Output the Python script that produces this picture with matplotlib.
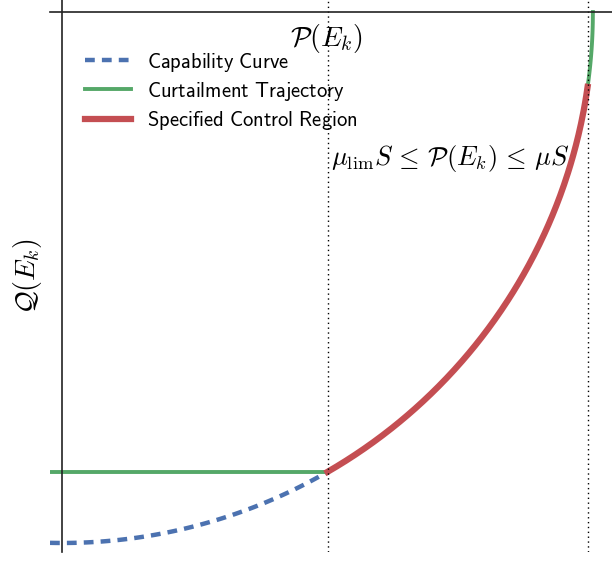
import matplotlib.pyplot as plt
import numpy as np

plt.rcParams['mathtext.fontset'] = 'cm'

# capability curve parameters (apparent power S normalised to 1)
S = 1.0
MU_LIM = 0.5
MU = 0.99
P_START = -0.023

col_blue = '#4C72B0'
col_green = '#55A868'
col_red = '#C44E52'

q_lim = -np.sqrt(S**2 - (MU_LIM * S)**2)

p_cap = np.linspace(P_START, MU_LIM * S, 100)
q_cap = -np.sqrt(S**2 - p_cap**2)

p_ctrl = np.linspace(MU_LIM * S, MU * S, 200)
q_ctrl = -np.sqrt(S**2 - p_ctrl**2)

p_top = np.linspace(MU * S, S, 50)
q_top = -np.sqrt(S**2 - p_top**2)

p_curt = [P_START, MU_LIM * S]
q_curt = [q_lim, q_lim]

fig = plt.figure(figsize=(6.12, 5.61), dpi=100)
ax = fig.add_axes([50/612, 9/561, 562/612, 552/561])

ax.plot(p_cap, q_cap, '--', color=col_blue, lw=3.2, dashes=(2.2, 1.6), label=r'$\mathsf{Capability\ Curve}$')
ax.plot(p_curt, q_curt, color=col_green, lw=2.8, label=r'$\mathsf{Curtailment\ Trajectory}$')
ax.plot(p_top, q_top, color=col_green, lw=2.8)
ax.plot(p_ctrl, q_ctrl, color=col_red, lw=4.5, label=r'$\mathsf{Specified\ Control\ Region}$')

ax.axvline(MU_LIM * S, color='k', ls=(0, (1, 2.5)), lw=1.0)
ax.axvline(MU * S, color='k', ls=(0, (1, 2.5)), lw=1.0)

ax.set_xlim(P_START, 1.036)
ax.set_ylim(-1.017, 0.0226)

ax.spines['left'].set_position(('data', 0))
ax.spines['top'].set_position(('data', 0))
ax.spines['right'].set_visible(False)
ax.spines['bottom'].set_visible(False)
for s in ['left', 'top']:
    ax.spines[s].set_linewidth(1.2)
    ax.spines[s].set_color('#222222')
ax.set_xticks([])
ax.set_yticks([])

ax.text(0.492, 0.93, r'$\mathcal{P}(E_k)$', transform=ax.transAxes, ha='center', va='center', fontsize=20)
fig.text(28/612, 1 - 276/561, r'$\mathcal{Q}(E_k)$', rotation=90, ha='center', va='center', fontsize=20)
ax.text(0.5, 0.713, r'$\mu_{\lim}S\,\leq\,\mathcal{P}(E_k)\,\leq\,\mu S$', transform=ax.transAxes,
        ha='left', va='center', fontsize=19)

ax.legend(loc='upper left', bbox_to_anchor=(0.03, 0.942), frameon=False, fontsize=14.8,
          handlelength=2.2, labelspacing=0.3, handletextpad=0.8)

fig.savefig('out.png', dpi=100)
